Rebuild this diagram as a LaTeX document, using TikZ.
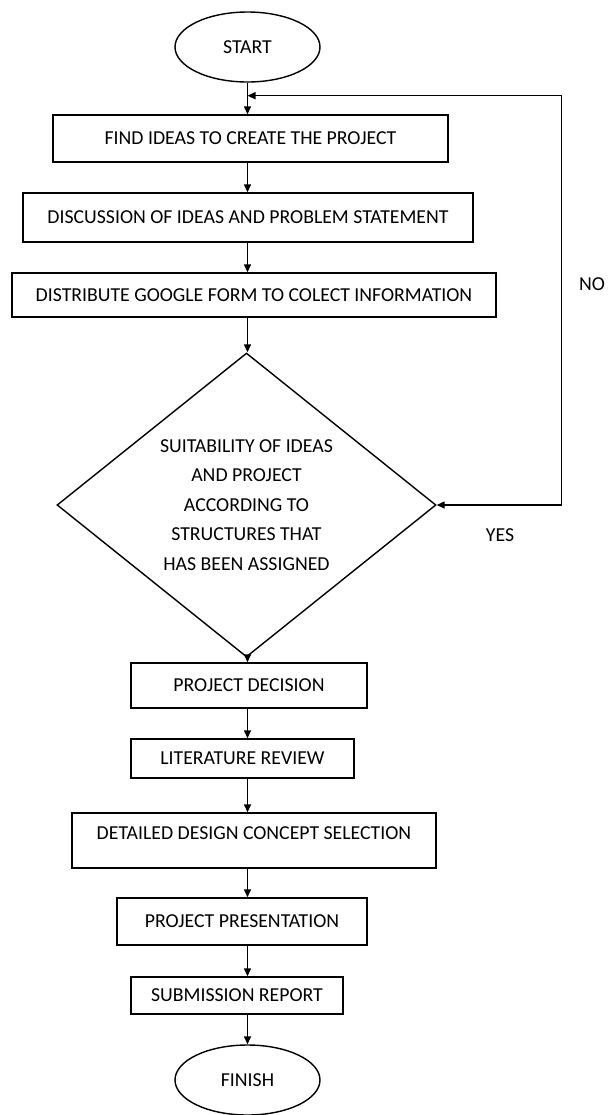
\documentclass[tikz,border=0pt]{standalone}
\usepackage{fontspec}
\setmainfont{Carlito}
\usetikzlibrary{shapes.geometric,arrows.meta}

\tikzset{
    box/.style={draw, thick, inner sep=2pt},
    term/.style={draw, thick, ellipse, minimum width=2.9cm, minimum height=1.4cm},
    arr/.style={-{Triangle[length=1.6mm,width=1.4mm]}, thick},
    arrboth/.style={{Triangle[length=1.6mm,width=1.4mm]}-{Triangle[length=1.6mm,width=1.4mm]}, thick}
}

\begin{document}
\begin{tikzpicture}[font=\fontsize{11.25}{16.8}\selectfont]
    \useasboundingbox (0,0) rectangle (12.22,-22.3);

    \node[term] (start) at (4.95,-0.94) {START};
    \node[box, below of=start, node distance=1.83cm, xshift=0.06cm, minimum width=7.9cm, minimum height=0.94cm] (find) {FIND IDEAS TO CREATE THE PROJECT};
    \node[box, below of=find, node distance=1.58cm, xshift=-0.05cm, minimum width=9cm, minimum height=0.98cm] (disc) {DISCUSSION OF IDEAS AND PROBLEM STATEMENT};
    \node[box, below of=disc, node distance=1.55cm, xshift=0.12cm, minimum width=9.68cm, minimum height=0.88cm] (form) {DISTRIBUTE GOOGLE FORM TO COLECT INFORMATION};
    \node[draw, thick, diamond, aspect=1.25, inner sep=0pt, align=center, below of=form, node distance=4.2cm, xshift=-0.15cm, minimum width=7.58cm, minimum height=6.08cm] (check) {SUITABILITY OF IDEAS\\AND PROJECT\\ACCORDING TO\\STRUCTURES THAT\\HAS BEEN ASSIGNED};

    \node[box, below of=check, node distance=3.61cm, xshift=0.05cm, minimum width=4.72cm, minimum height=0.9cm] (decision) {PROJECT DECISION};
    \node[box, below of=decision, node distance=1.46cm, xshift=-0.13cm, minimum width=4.46cm, minimum height=0.78cm] (review) {LITERATURE REVIEW};
    \node[box, below of=review, node distance=1.64cm, xshift=0.23cm, minimum width=7.28cm, minimum height=1.1cm, text depth=0.28cm] (design) {DETAILED DESIGN CONCEPT SELECTION};
    \node[box, below of=design, node distance=1.62cm, xshift=-0.24cm, minimum width=5cm, minimum height=0.94cm] (present) {PROJECT PRESENTATION};
    \node[box, below of=present, node distance=1.48cm, xshift=-0.1cm, minimum width=4.24cm, minimum height=0.74cm] (report) {SUBMISSION REPORT};
    \node[term, below of=report, node distance=1.69cm, xshift=0.21cm] (finish) {FINISH};

    \draw[arr] (start.south) -- (start.south |- find.north);
    \draw[arr] (find.south -| start) -- (disc.north -| start);
    \draw[arr] (disc.south -| start) -- (form.north -| start);
    \draw[arr] (form.south -| start) -- (check.north -| start);
    \draw[arr] (check.south -| start) -- (decision.north -| start);
    \draw[arr] (decision.south -| start) -- (review.north -| start);
    \draw[arr] (review.south -| start) -- (design.north -| start);
    \draw[arr] (design.south -| start) -- (present.north -| start);
    \draw[arr] (present.south -| start) -- (report.north -| start);
    \draw[arr] (report.south -| start) -- (finish.north -| start);

    % loop back when the idea does not fit
    \path (start.south) -- ++(0,-0.26) coordinate (join);
    \draw[arrboth] (check.east) -- ++(2.5,0) |- (join);

    \node (no) at (11.84,-5.68) {NO};
    \node (yes) at (10.0,-10.7) {YES};

\end{tikzpicture}
\end{document}
